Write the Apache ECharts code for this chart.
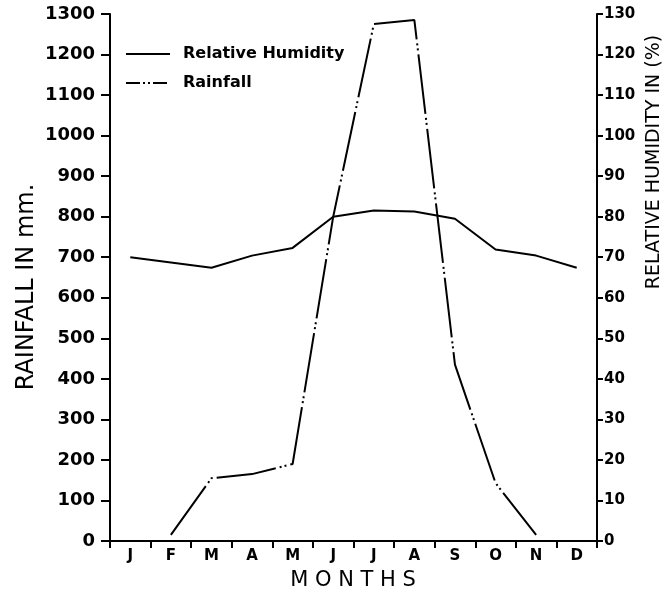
<!DOCTYPE html>
<html>
<head>
<meta charset="utf-8">
<script src="https://cdn.jsdelivr.net/npm/echarts@6/dist/echarts.min.js"></script>
<style>html,body{margin:0;padding:0;background:#fff;}#c{width:671px;height:599px;}</style>
</head>
<body>
<div id="c"></div>
<script>
const months = ['J','F','M','A','M','J','J','A','S','O','N','D'];
const rainfall = [null, 15, 155, 165, 190, 800, 1275, 1285, 435, 143, 15, null];
const humidity = [70, 68.7, 67.4, 70.4, 72.3, 80, 81.5, 81.3, 79.5, 71.9, 70.4, 67.4];
const rainTicks = [0, 1300, 100];
const humTicks = [0, 130, 10];

const FONT = 'DejaVu Sans';
const chart = echarts.init(document.getElementById('c'));
chart.setOption({
  backgroundColor: '#fff',
  animation: false,
  grid: { left: 110, right: 74, top: 14, bottom: 58 },
  legend: {
    left: 120, top: 41, orient: 'vertical', itemWidth: 44, itemHeight: 10, itemGap: 13,
    itemStyle: { opacity: 0 },
    textStyle: { fontFamily: FONT, fontWeight: 'bold', fontSize: 16, color: '#000', padding: [0, 0, 0, 8] },
    data: [
      { name: 'Relative Humidity' },
      { name: 'Rainfall', lineStyle: { type: [14, 3, 2, 3, 2, 3] } }
    ]
  },
  xAxis: {
    type: 'category', data: months, boundaryGap: true,
    axisLine: { lineStyle: { color: '#000', width: 2 } },
    axisTick: { show: true, length: 7, inside: false, lineStyle: { color: '#000', width: 2 } },
    axisLabel: { color: '#000', fontFamily: FONT, fontWeight: 'bold', fontSize: 15, margin: 8 },
    splitLine: { show: false }
  },
  yAxis: [
    {
      type: 'value', min: rainTicks[0], max: rainTicks[1], interval: rainTicks[2], position: 'left',
      axisLine: { show: true, lineStyle: { color: '#000', width: 2 } },
      axisTick: { show: true, length: 9, lineStyle: { color: '#000', width: 2 } },
      axisLabel: { color: '#000', fontFamily: FONT, fontWeight: 'bold', fontSize: 18, margin: 15, formatter: v => String(v) },
      splitLine: { show: false }
    },
    {
      type: 'value', min: humTicks[0], max: humTicks[1], interval: humTicks[2], position: 'right',
      axisLine: { show: true, lineStyle: { color: '#000', width: 2 } },
      axisTick: { show: true, length: 6, lineStyle: { color: '#000', width: 2 } },
      axisLabel: { color: '#000', fontFamily: FONT, fontWeight: 'bold', fontSize: 15, margin: 7, formatter: v => String(v) },
      splitLine: { show: false }
    }
  ],
  graphic: [
    { type: 'text', x: 353, y: 570, style: { text: 'M O N T H S', fill: '#000', fontFamily: FONT, fontSize: 21, align: 'center', verticalAlign: 'top' } },
    { type: 'text', x: 15, y: 287, rotation: Math.PI / 2, style: { text: 'RAINFALL IN mm.', fill: '#000', fontFamily: FONT, fontSize: 24, align: 'center', verticalAlign: 'top' } },
    { type: 'text', x: 645, y: 162, rotation: Math.PI / 2, style: { text: 'RELATIVE HUMIDITY IN (%)', fill: '#000', fontFamily: FONT, fontSize: 19, align: 'center', verticalAlign: 'top' } }
  ],
  series: [
    {
      name: 'Relative Humidity', type: 'line', yAxisIndex: 1, data: humidity,
      showSymbol: false, symbol: 'none',
      lineStyle: { color: '#000', width: 2 }, itemStyle: { color: '#000' }
    },
    {
      name: 'Rainfall', type: 'line', yAxisIndex: 0, data: rainfall,
      showSymbol: false, symbol: 'none', connectNulls: false,
      lineStyle: { color: '#000', width: 2, type: [60, 4, 2, 3, 2, 4] }, itemStyle: { color: '#000' }
    }
  ]
});
</script>
</body>
</html>
